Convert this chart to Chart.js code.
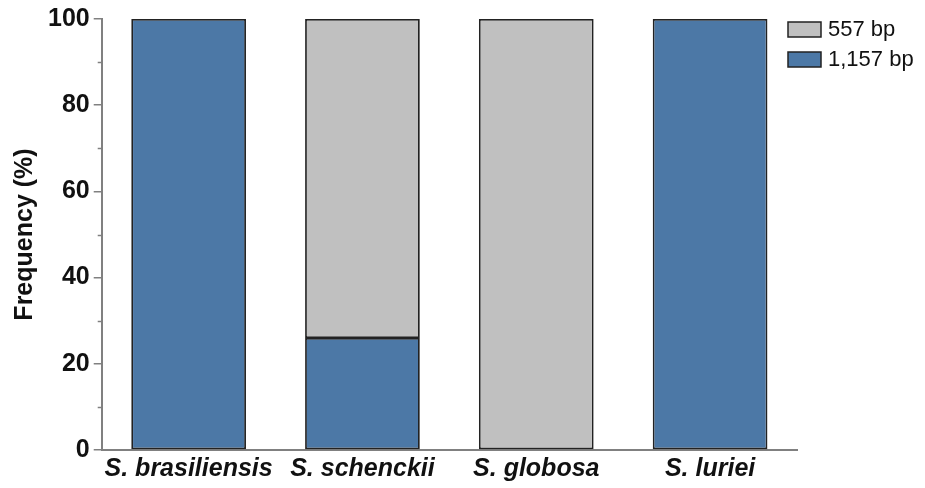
<!DOCTYPE html>
<html>
<head>
<meta charset="utf-8">
<script src="https://cdn.jsdelivr.net/npm/chart.js@4"></script>
<style>
  html, body { margin: 0; padding: 0; background: #fff; }
  #wrap { width: 925px; height: 488px; }
</style>
</head>
<body>
<div id="wrap"><canvas id="freqChart"></canvas></div>
<script>
// data
const species = ['S. brasiliensis', 'S. schenckii', 'S. globosa', 'S. luriei'];
const bp1157 = [100, 26, 0, 100];
const bp557 = [0, 74, 100, 0];
const yTicks = [0, 20, 40, 60, 80, 100];
const yMinor = [10, 30, 50, 70, 90];

const axisGray = '#808080';
const fontFam = '"Liberation Sans", Arial, sans-serif';

// minor ticks + legend drawn on top
const extras = {
    id: 'extras',
    afterDraw(chart) {
        const ctx = chart.ctx;
        const y = chart.scales.y;
        ctx.save();
        ctx.strokeStyle = axisGray;
        ctx.lineWidth = 1.5;
        yMinor.forEach(v => {
            const py = Math.round(y.getPixelForValue(v)) + 0.5;
            ctx.beginPath();
            ctx.moveTo(y.right - 4, py);
            ctx.lineTo(y.right, py);
            ctx.stroke();
        });

        // legend (reversed so 557 bp is on top)
        const items = chart.data.datasets.slice().reverse();
        let ly = 22;
        ctx.font = '22px ' + fontFam;
        ctx.textBaseline = 'middle';
        items.forEach(ds => {
            ctx.fillStyle = ds.backgroundColor;
            ctx.fillRect(788, ly, 33, 15);
            ctx.strokeStyle = '#222';
            ctx.lineWidth = 1.5;
            ctx.strokeRect(788, ly, 33, 15);
            ctx.fillStyle = '#111';
            ctx.fillText(ds.label, 828, ly + 8);
            ly += 30;
        });
        ctx.restore();
    }
};

new Chart(document.getElementById('freqChart'), {
    type: 'bar',
    data: {
        labels: species,
        datasets: [
            {
                label: '1,157 bp',
                data: bp1157,
                backgroundColor: '#4c78a6',
                borderColor: '#222',
                borderWidth: 1.8,
                borderSkipped: false
            },
            {
                label: '557 bp',
                data: bp557,
                backgroundColor: '#c0c0c0',
                borderColor: '#222',
                borderWidth: 1.8,
                borderSkipped: false
            }
        ]
    },
    options: {
        responsive: true,
        maintainAspectRatio: false,
        animation: false,
        layout: { padding: { left: 10, right: 128, top: 11, bottom: 0 } },
        datasets: {
            bar: { categoryPercentage: 1.0, barPercentage: 0.66 }
        },
        plugins: {
            legend: { display: false },
            tooltip: { enabled: false }
        },
        scales: {
            x: {
                stacked: true,
                grid: { display: false, drawTicks: false },
                border: { color: axisGray, width: 2 },
                ticks: {
                    color: '#111',
                    padding: 4,
                    autoSkip: false,
                    maxRotation: 0,
                    minRotation: 0,
                    font: { family: fontFam, size: 25, weight: 'bold', style: 'italic' }
                }
            },
            y: {
                stacked: true,
                min: 0,
                max: 100,
                afterBuildTicks: axis => { axis.ticks = yTicks.map(v => ({ value: v })); },
                grid: { drawOnChartArea: false, tickLength: 8, color: axisGray, lineWidth: 1.5 },
                border: { color: axisGray, width: 2 },
                ticks: {
                    color: '#111',
                    padding: 4,
                    font: { family: fontFam, size: 25, weight: 'bold' }
                },
                title: {
                    display: true,
                    text: 'Frequency (%)',
                    color: '#111',
                    padding: { top: 0, bottom: 4 },
                    font: { family: fontFam, size: 25, weight: 'bold' }
                }
            }
        }
    },
    plugins: [extras]
});
</script>
</body>
</html>
